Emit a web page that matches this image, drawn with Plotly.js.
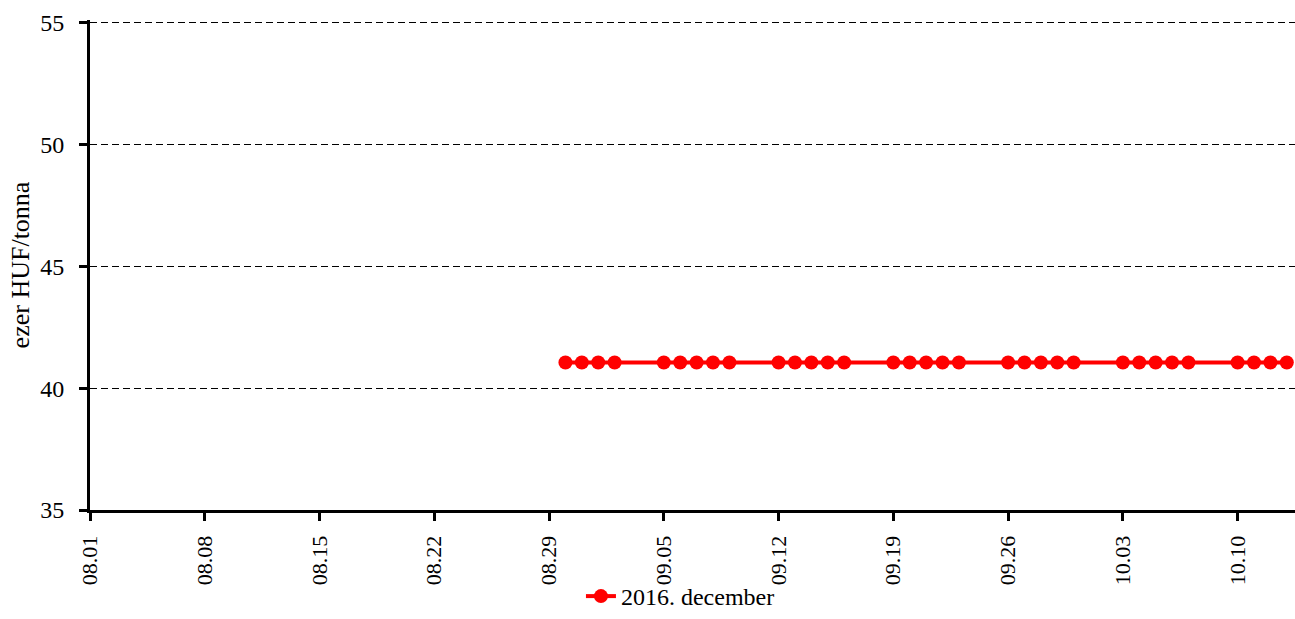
<!DOCTYPE html>
<html>
<head>
<meta charset="utf-8">
<script src="https://cdn.plot.ly/plotly-3.0.1.min.js"></script>
<style>html,body{margin:0;padding:0;background:#fff;}#chart{width:1295px;height:619px;}</style>
</head>
<body>
<div id="chart"></div>
<script>
const seriesName = "2016. december";
const dates = [
  "2016-08-30","2016-08-31","2016-09-01","2016-09-02",
  "2016-09-05","2016-09-06","2016-09-07","2016-09-08","2016-09-09",
  "2016-09-12","2016-09-13","2016-09-14","2016-09-15","2016-09-16",
  "2016-09-19","2016-09-20","2016-09-21","2016-09-22","2016-09-23",
  "2016-09-26","2016-09-27","2016-09-28","2016-09-29","2016-09-30",
  "2016-10-03","2016-10-04","2016-10-05","2016-10-06","2016-10-07",
  "2016-10-10","2016-10-11","2016-10-12","2016-10-13"
];
const values = [
  41.05,41.05,41.05,41.05,
  41.05,41.05,41.05,41.05,41.05,
  41.05,41.05,41.05,41.05,41.05,
  41.05,41.05,41.05,41.05,41.05,
  41.05,41.05,41.05,41.05,41.05,
  41.05,41.05,41.05,41.05,41.05,
  41.05,41.05,41.05,41.05
];
const yTicks = [35,40,45,50,55];
const yAxisTitle = "ezer HUF/tonna";

const fam = "Liberation Serif";
const f = (s) => ({family: fam, size: s, color: "#000"});

const trace = {
  x: dates, y: values, type: "scatter", mode: "lines+markers", name: seriesName,
  line: {color: "#ff0000", width: 4},
  marker: {color: "#ff0000", size: 14, symbol: "circle"}
};

const layout = {
  width: 1295, height: 619,
  margin: {l: 90, r: 0, t: 20, b: 109, autoexpand: false},
  paper_bgcolor: "#fff", plot_bgcolor: "#fff",
  font: f(23),
  showlegend: true,
  legend: {orientation: "h", x: 0.49, xanchor: "center", xref: "paper",
    y: 0, yanchor: "bottom", yref: "container",
    font: f(24), bgcolor: "rgba(0,0,0,0)"},
  xaxis: {
    type: "date",
    range: ["2016-08-01", "2016-10-13 12:00"],
    tick0: "2016-08-01", dtick: 7*24*3600*1000,
    tickformat: "%m.%d", tickangle: -90,
    ticks: "outside", ticklen: 8, tickwidth: 3, tickcolor: "#000",
    ticklabelstandoff: 6,
    showline: true, linecolor: "#000", linewidth: 3,
    showgrid: false, zeroline: false,
    tickfont: f(22)
  },
  yaxis: {
    range: [35, 55.1], tickvals: yTicks,
    ticks: "outside", ticklen: 8, tickwidth: 3, tickcolor: "#000",
    ticklabelstandoff: 10,
    showline: true, linecolor: "#000", linewidth: 3,
    showgrid: true, gridcolor: "#000", gridwidth: 1, griddash: "7px,4px",
    zeroline: false,
    tickfont: f(24),
    title: {text: yAxisTitle, font: f(26), standoff: 4}
  }
};

Plotly.newPlot("chart", [trace], layout, {displayModeBar: false, staticPlot: true});
</script>
</body>
</html>
